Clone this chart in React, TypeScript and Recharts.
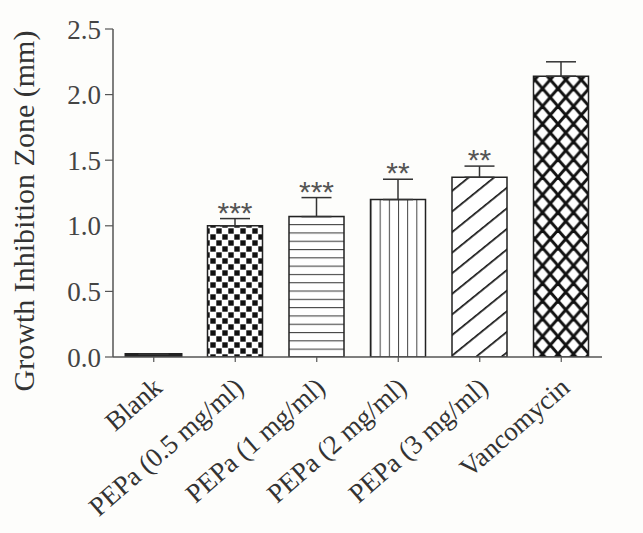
import { BarChart, Bar, XAxis, YAxis, Cell, ErrorBar } from "recharts";

const categories = [
  "Blank",
  "PEPa (0.5 mg/ml)",
  "PEPa (1 mg/ml)",
  "PEPa (2 mg/ml)",
  "PEPa (3 mg/ml)",
  "Vancomycin",
];
const means = [0.02, 1.0, 1.07, 1.2, 1.37, 2.14];
const sems = [0, 0.055, 0.145, 0.155, 0.085, 0.11];
const stars = ["", "***", "***", "**", "**", ""];
const yTicks = [0, 0.5, 1.0, 1.5, 2.0, 2.5];

const fills = ["#111", "url(#checker)", "url(#hlines)", "url(#vlines)", "url(#diag)", "url(#cross)"];

const data = categories.map((name, i) => ({
  name,
  mean: means[i],
  err: [0, sems[i]],
  star: stars[i],
}));

const serif = "'Liberation Serif', 'Times New Roman', serif";

function Patterns() {
  return (
    <svg width={0} height={0} style={{ position: "absolute" }}>
      <defs>
        <pattern id="checker" width={12} height={12} patternUnits="userSpaceOnUse">
          <rect width={12} height={12} fill="#fff" />
          <rect x={0.3} y={0.3} width={5.4} height={5.4} fill="#111" />
          <rect x={6.3} y={6.3} width={5.4} height={5.4} fill="#111" />
        </pattern>
        <pattern id="hlines" width={10} height={8.3} patternUnits="userSpaceOnUse">
          <rect width={10} height={8.3} fill="#fff" />
          <line x1={0} y1={0.5} x2={10} y2={0.5} stroke="#444" strokeWidth={1.2} />
        </pattern>
        <pattern id="vlines" x={0} y={0} width={1 / 6} height={1} patternUnits="objectBoundingBox">
          <rect width={20} height={600} fill="#fff" />
          <line x1={0} y1={0} x2={0} y2={600} stroke="#444" strokeWidth={2} />
        </pattern>
        <pattern id="diag" width={16} height={16} patternUnits="userSpaceOnUse" patternTransform="rotate(51)">
          <rect width={16} height={16} fill="#fff" />
          <line x1={0} y1={0} x2={0} y2={16} stroke="#111" strokeWidth={3.4} />
        </pattern>
        <pattern id="cross" width={15.5} height={17.7} patternUnits="userSpaceOnUse">
          <rect width={15.5} height={17.7} fill="#fff" />
          <line x1={0} y1={0} x2={15.5} y2={17.7} stroke="#111" strokeWidth={3} />
          <line x1={15.5} y1={0} x2={0} y2={17.7} stroke="#111" strokeWidth={3} />
        </pattern>
      </defs>
    </svg>
  );
}

function XTick({ x, y, payload }: any) {
  return (
    <g transform={`translate(${x + 10},${y + 26}) rotate(-41)`}>
      <text x={0} y={0} textAnchor="end" fontFamily={serif} fontSize={27} fill="#333">
        {payload.value}
      </text>
    </g>
  );
}

function YLabel({ viewBox }: any) {
  const cy = viewBox.y + viewBox.height / 2 + 18;
  return (
    <text
      x={34}
      y={cy}
      transform={`rotate(-90, 34, ${cy})`}
      textAnchor="middle"
      fontFamily={serif}
      fontSize={30}
      fill="#333"
    >
      Growth Inhibition Zone (mm)
    </text>
  );
}

function StarLabel(props: any) {
  const { x, y, width, height, value, index } = props;
  const s = stars[index];
  if (!s || !value) return null;
  const px = height / value;
  const capY = y - sems[index] * px;
  return (
    <text
      x={x + width / 2}
      y={capY + 4}
      textAnchor="middle"
      fontFamily="'Liberation Sans', Arial, sans-serif"
      fontSize={30}
      fill="#555"
    >
      {s}
    </text>
  );
}

export default function App() {
  return (
    <div style={{ position: "absolute", left: 0, top: 0, width: 643, height: 533, background: "#fdfdfb" }}>
      <Patterns />
      <BarChart
        width={643}
        height={533}
        data={data}
        margin={{ top: 29, right: 41, bottom: 0, left: 0 }}
      >
        <XAxis
          dataKey="name"
          height={176}
          tick={<XTick />}
          tickSize={5}
          axisLine={{ stroke: "#555", strokeWidth: 1.5 }}
          tickLine={{ stroke: "#555", strokeWidth: 1.2 }}
          interval={0}
        />
        <YAxis
          width={113}
          domain={[0, 2.5]}
          ticks={yTicks}
          tickFormatter={(v: number) => v.toFixed(1)}
          tick={{ fontFamily: serif, fontSize: 27, fill: "#444" }}
          tickSize={8}
          tickMargin={4}
          axisLine={{ stroke: "#555", strokeWidth: 1.5 }}
          tickLine={{ stroke: "#555", strokeWidth: 1.2 }}
          label={<YLabel />}
          allowDataOverflow
        />
        <Bar
          dataKey="mean"
          barSize={55}
          stroke="#222"
          strokeWidth={1.5}
          isAnimationActive={false}
          label={<StarLabel />}
        >
          {data.map((d, i) => (
            <Cell key={d.name} fill={fills[i]} strokeWidth={i === 0 ? 3 : 1.5} />
          ))}
          <ErrorBar dataKey="err" width={15} stroke="#333" strokeWidth={1.5} direction="y" isAnimationActive={false} />
        </Bar>
      </BarChart>
    </div>
  );
}
